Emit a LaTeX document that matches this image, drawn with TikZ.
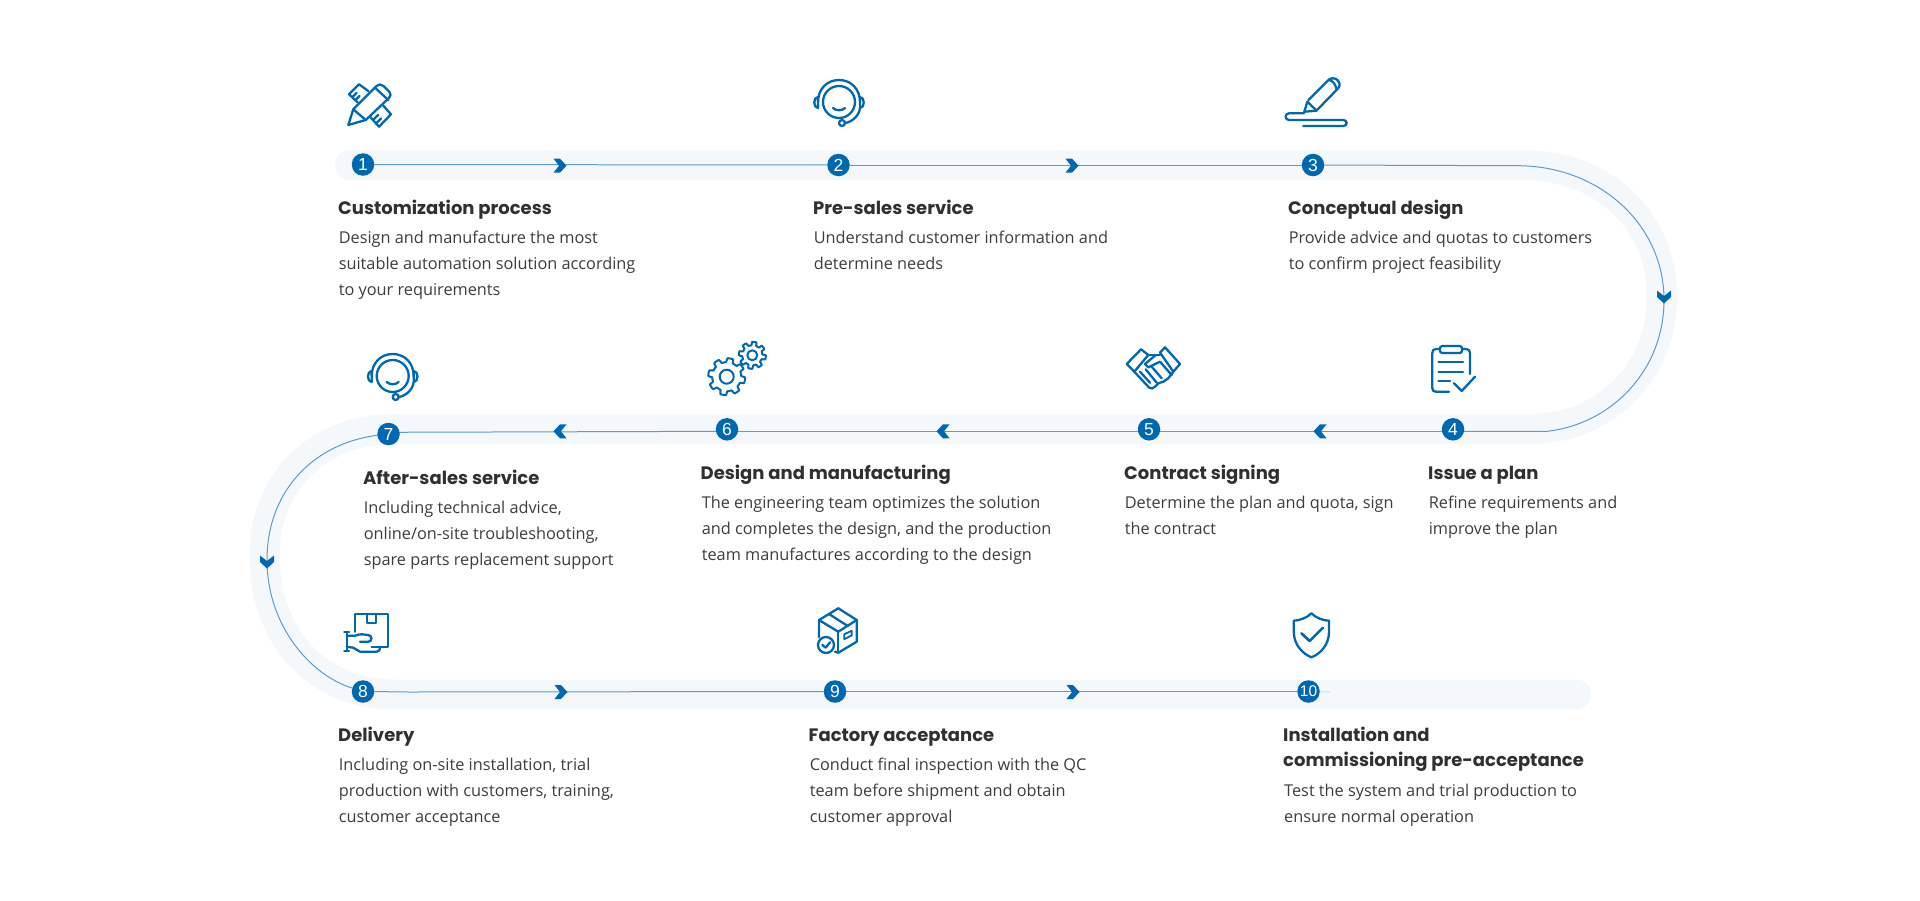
\documentclass[tikz,border=0pt]{standalone}
\usepackage{fontspec}
\setmainfont{Open Sans}
\newfontfamily\ttlfont{Poppins}
\newfontfamily\numfont{Liberation Sans}
\usetikzlibrary{backgrounds}
\definecolor{brandblue}{HTML}{0068B0}
\definecolor{bandcol}{HTML}{F5F8FB}
\definecolor{flowcol}{HTML}{5A9CCB}
\definecolor{ttlcol}{HTML}{303030}
\definecolor{bodycol}{HTML}{3D3D3D}
\tikzset{
  stepdot/.style={circle,fill=brandblue,text=white,minimum size=22.5pt,inner sep=0pt,font=\numfont\fontsize{17.5}{17.5}\selectfont},
  ttl/.style={anchor=north west,inner sep=0pt,align=left,text=ttlcol,font=\ttlfont\bfseries\fontsize{18}{24.5}\selectfont,execute at begin node={\rule{0pt}{15pt}}},
  bodytxt/.style={anchor=north west,inner sep=0pt,align=left,text=bodycol,font=\fontsize{16.3}{26}\selectfont,execute at begin node={\rule{0pt}{15pt}}},
  flow/.style={draw=flowcol,line width=1pt},
  icon/.style={draw=brandblue,line width=2.3pt,line join=round,line cap=round},
  chev/.pic={\fill[brandblue] (-6.5,-7) -- (0,-7) -- (6.5,0) -- (0,7) -- (-6.5,7) -- (-1,0) -- cycle;},
  headset/.pic={
    \draw[icon] (0,0) circle[radius=16];
    \draw[icon] (-21,0) .. controls (-21,-13) and (-12,-22) .. (0,-22) .. controls (12,-22) and (21,-13) .. (21,0);
    \draw[icon] (-21,-5) .. controls (-26,-5) and (-26,6) .. (-21,6) -- cycle;
    \draw[icon] (21,-5) .. controls (26,-5) and (26,6) .. (21,6) -- cycle;
    \draw[icon] (21,6) .. controls (20,14) and (13,20) .. (6,21);
    \draw[icon] (3,21) circle[radius=3];
    \draw[icon] (-6,6) .. controls (-3,9) and (3,9) .. (6,6);
  }
}
\newcommand{\geartrace}[5]{% cx cy Ro Ri phase
  \draw[icon,line width=2pt] plot[domain=0:360,samples=193] ({#1+(#4+(#3-#4)*max(0,min(1,0.5+1.6*sin(8*\x+#5))))*cos(\x)},{#2+(#4+(#3-#4)*max(0,min(1,0.5+1.6*sin(8*\x+#5))))*sin(\x)}) -- cycle;
}
\begin{document}
\begin{tikzpicture}[x=1pt,y=-1pt]
\useasboundingbox (0,0) rectangle (1920,900);

% step markers
\node[stepdot] (n1) at (363,164.5) {1};
\node[stepdot] (n2) at (838.5,165) {2};
\node[stepdot] (n3) at (1313,165) {3};
\node[stepdot] (n4) at (1453,429.3) {4};
\node[stepdot] (n5) at (1149,429.3) {5};
\node[stepdot] (n6) at (727,429.3) {6};
\node[stepdot] (n7) at (388.5,434) {7};
\node[stepdot] (n8) at (363,691.5) {8};
\node[stepdot] (n9) at (835,691.5) {9};
\node[stepdot,font=\numfont\fontsize{15.5}{15.5}\selectfont] (n10) at (1308.5,691.5) {10};

\coordinate (c3) at (1517,165.7);
\coordinate (c4) at (1547,431.3);
\coordinate (c7) at (380,435);
\coordinate (c8) at (352,688);
\coordinate (c8b) at (410,692);
\coordinate (c10) at (1330,692);

\begin{pgfonlayer}{background}
  \fill[white] (0,0) rectangle (1920,900);
  \draw[bandcol,line width=30pt,line cap=round]
    (350,165) -- (1522,165) .. controls (1605,165) and (1662,222) .. (1662,297)
    .. controls (1662,372) and (1605,429) .. (1530,429) -- (395,429)
    .. controls (315,429) and (264.5,485) .. (264.5,555)
    .. controls (264.5,640) and (320,694.5) .. (395,694.5) -- (1576,694.5);
  \draw[flow] (n1) -- (n2);
  \draw[flow] (n2) -- (n3);
  \draw[flow] (n3) -- (c3) .. controls (1600,165.7) and (1664,225) .. (1664,300)
    .. controls (1664,370) and (1612,424) .. (c4) -- ([yshift=-2pt]n4.center);
  \draw[flow] ([yshift=-2pt]n4.center) -- ([yshift=-2pt]n5.center);
  \draw[flow] ([yshift=-2pt]n5.center) -- ([yshift=-2pt]n6.center);
  \draw[flow] ([yshift=-2pt]n6.center) -- ([yshift=1.7pt]n7.center);
  \draw[flow] (n7) -- (c7) .. controls (315,442) and (267,490) .. (267,560)
    .. controls (267,625) and (310,675) .. (c8) -- (n8);
  \draw[flow] (n8) .. controls (380,691.5) and (395,692) .. (c8b) -- (n9);
  \draw[flow] (n9) -- (n10);
  \draw[flow,draw=flowcol!35] (n10) -- (c10);
\end{pgfonlayer}

% chevrons
\pic at (560,165.7) {chev};
\pic at (1072,165.7) {chev};
\pic[rotate=-90] at (1664,297) {chev};
\pic[rotate=180] at (1320,431.3) {chev};
\pic[rotate=180] at (943,431.3) {chev};
\pic[rotate=180] at (560,431.3) {chev};
\pic[rotate=-90] at (267,562) {chev};
\pic at (561,692) {chev};
\pic at (1073,692) {chev};

% titles and bodies
\node[ttl] (t1) at (338,199) {Customization process};
\node[bodytxt] (b1) at (338.6,231) {Design and manufacture the most\\suitable automation solution according\\to your requirements};
\node[ttl] (t2) at (813,199) {Pre-sales service};
\node[bodytxt] (b2) at (813.6,231) {Understand customer information and\\determine needs};
\node[ttl] (t3) at (1288,199) {Conceptual design};
\node[bodytxt] (b3) at (1288.6,231) {Provide advice and quotas to customers\\to confirm project feasibility};
\node[ttl] (t4) at (1428,464) {Issue a plan};
\node[bodytxt] (b4) at (1428.6,495.5) {Refine requirements and\\improve the plan};
\node[ttl] (t5) at (1124,464) {Contract signing};
\node[bodytxt] (b5) at (1124.6,495.5) {Determine the plan and quota, sign\\the contract};
\node[ttl] (t6) at (700.5,464) {Design and manufacturing};
\node[bodytxt] (b6) at (701.6,495.5) {The engineering team optimizes the solution\\and completes the design, and the production\\team manufactures according to the design};
\node[ttl] (t7) at (363,469) {After-sales service};
\node[bodytxt] (b7) at (363.6,500.5) {Including technical advice,\\online/on-site troubleshooting,\\spare parts replacement support};
\node[ttl] (t8) at (338,726) {Delivery};
\node[bodytxt] (b8) at (338.6,757.5) {Including on-site installation, trial\\production with customers, training,\\customer acceptance};
\node[ttl] (t9) at (808.5,726) {Factory acceptance};
\node[bodytxt] (b9) at (809.6,757.5) {Conduct final inspection with the QC\\team before shipment and obtain\\customer approval};
\node[ttl] (t10) at (1283,727) {Installation and\\commissioning pre-acceptance};
\node[bodytxt] (b10) at (1284,783.5) {Test the system and trial production to\\ensure normal operation};

% icon 1: pencil and ruler
\draw[icon] (348.3,125) -- (353.3,109.3) -- (376,86.5) .. controls (379,84) and (381.5,84) .. (383.5,86) -- (389.5,92) .. controls (391,94) and (391,96) .. (389,98) -- (365.7,120) -- cycle;
\draw[icon] (353.3,109.3) -- (365.7,120);
\draw[icon] (375,87.7) -- (388.3,100);
\draw[icon] (357.7,102.3) -- (349,94.3) -- (359,84.3) -- (368.3,91);
\draw[icon] (352.5,97) -- (356.5,93) (355.5,100) -- (359.5,96);
\draw[icon] (383.3,105.7) -- (391,114.3) -- (379,126.7) -- (370,116.7);
\draw[icon] (373,120) -- (378,115) (376,123.5) -- (381,118.5);

% icon 2 and 7: headset
\pic at (839,102) {headset};
\pic at (392.7,376) {headset};

% icon 3: marker
\draw[icon] (1304.3,111.7) -- (1307.3,101.7) -- (1316.7,110.7) -- cycle;
\draw[icon] (1308.5,100) -- (1329,79.5) .. controls (1333,76.5) and (1339,79) .. (1339.5,84) .. controls (1340,86) and (1339,87.5) .. (1337.5,89) -- (1317.5,109.5);
\draw[icon] (1329.5,80) .. controls (1333,81) and (1336,85) .. (1336.5,89.5);
\draw[icon] (1304,113.3) -- (1289,113.3) .. controls (1284.5,113.3) and (1284.5,120) .. (1289,120) -- (1343.3,120) .. controls (1347.8,120) and (1347.8,126) .. (1343.3,126) -- (1303.3,126);

% icon 4: clipboard
\draw[icon] (1440,349) -- (1436,349) .. controls (1433.5,349) and (1432.3,350.5) .. (1432.3,353) -- (1432.3,388) .. controls (1432.3,390.5) and (1433.5,391.7) .. (1436,391.7) -- (1449,391.7);
\draw[icon] (1462,349) -- (1466,349) .. controls (1468.5,349) and (1470,350.5) .. (1470,353) -- (1470,374);
\draw[icon] (1442,346) -- (1460,346) .. controls (1463,346) and (1463,353) .. (1460,353) -- (1442,353) .. controls (1439,353) and (1439,346) .. (1442,346) -- cycle;
\draw[icon] (1438.5,362) -- (1463,362) (1438.5,371.7) -- (1463,371.7) (1438.5,380.7) -- (1450,380.7);
\draw[icon] (1454,383.3) -- (1461.7,391) -- (1475,376.7);

% icon 5: handshake
\draw[icon] (1126.7,364) -- (1141,349.3) -- (1148.3,355) -- (1134.3,371.7) -- cycle;
\draw[icon] (1160,352.5) -- (1165,347.3) -- (1180,364) -- (1173.3,371.7) -- cycle;
\draw[icon] (1148.3,355) -- (1160,355);
\draw[icon] (1155,355.7) -- (1145,364) -- (1148.3,367.3) -- (1160,361.7) -- (1171.7,375);
\draw[icon] (1134.3,371.7) -- (1149,387.5) .. controls (1151,389.5) and (1153,388.5) .. (1155,386.7) -- (1158.3,383.3) -- (1163.3,381.7) -- (1168.3,378.3) -- (1173.3,371.7);
\draw[icon] (1140,371.7) -- (1150,382.7) (1145.7,369.3) -- (1156.7,382.7) (1151.7,366.7) -- (1161.7,378.3);
\fill[brandblue] (1171.7,355) circle[radius=1] (1175,358.3) circle[radius=1];

% icon 6: gears
\geartrace{726.7}{376.7}{18.5}{14.5}{0}
\draw[icon,line width=2pt] (726.7,376.7) circle[radius=7];
\geartrace{752.3}{355.3}{13.5}{10}{20}
\draw[icon,line width=2pt] (752.3,355.3) circle[radius=5];

% icon 8: hand and box
\draw[icon] (355,631.7) -- (355,614.3) -- (388.3,614.3) -- (388.3,646.7) -- (371.7,646.7);
\draw[icon] (366.7,614.3) -- (366.7,623.3) -- (375.7,623.3) -- (375.7,614.3);
\draw[icon] (346.7,631.7) -- (346.7,651) (344.3,632) -- (349,632) (344.3,651) -- (349,651);
\draw[icon] (346.7,635.7) -- (355,635.7) .. controls (358,634.5) and (360,634.3) .. (362,634.3) -- (368.3,635) .. controls (372.5,635.5) and (372.5,641.7) .. (368.3,641.7) -- (360,641.7);
\draw[icon] (346.7,646.7) -- (353.3,647.7) -- (360,651.7) -- (376.7,651.7) .. controls (379,651.7) and (380,650) .. (380,646.7);

% icon 9: box
\draw[icon] (838.3,608.3) -- (856.7,620) -- (856.7,641.7) -- (838.3,652.7) -- (835,651.7);
\draw[icon] (819,637.3) -- (819,620) -- (838.3,608.3);
\draw[icon] (819,620) -- (838.3,631.7) -- (856.7,620);
\draw[icon] (838.3,631.7) -- (838.3,652.7);
\draw[icon] (829,614) -- (847.7,626);
\draw[icon,line width=1.8pt] (844.3,634.3) -- (851.7,630.7) -- (851.7,635.5) -- (844.3,639.2) -- cycle;
\draw[icon] (826,645) circle[radius=8];
\draw[icon] (822.3,645) -- (825.7,647.7) -- (830,642.3);

% icon 10: shield
\draw[icon] (1311.4,613.3) .. controls (1307,618) and (1299,620.5) .. (1293.8,620.7) -- (1293.8,632) .. controls (1293.8,645) and (1303,654) .. (1311.4,657.3) .. controls (1320,654) and (1329,645) .. (1329,632) -- (1329,620.7) .. controls (1323,620.5) and (1316,618) .. (1311.4,613.3) -- cycle;
\draw[icon,line width=2.6pt] (1301.4,633.3) -- (1309.6,641) -- (1322.9,627.7);
\end{tikzpicture}
\end{document}
